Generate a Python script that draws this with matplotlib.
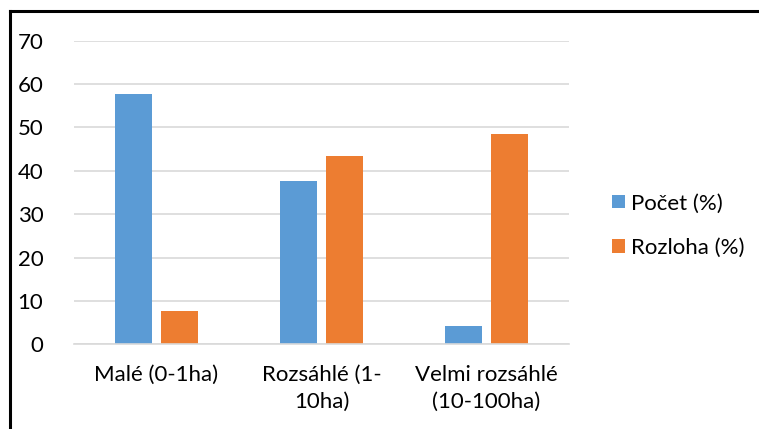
import matplotlib
matplotlib.use("Agg")
import matplotlib.pyplot as plt
from matplotlib.lines import Line2D
from matplotlib.patches import Patch
import numpy as np

categories = ["Malé (0-1ha)", "Rozsáhlé (1-\n10ha)", "Velmi rozsáhlé\n(10-100ha)"]
pocet = [57.7, 37.7, 4.3]
rozloha = [7.7, 43.4, 48.6]
series_labels = ["Počet (%)", "Rozloha (%)"]
y_ticks = [0, 10, 20, 30, 40, 50, 60, 70]

BLUE = "#5B9BD5"
ORANGE = "#ED7D31"
GRID = "#D9D9D9"

plt.rcParams["font.family"] = ["Lato", "DejaVu Sans"]

fig = plt.figure(figsize=(7.59, 4.29), dpi=100)
ax = fig.add_axes([0.0975, 0.1974, 0.6522, 0.7077])

x = np.arange(len(categories))
width = 0.224
offset = 0.142
ax.bar(x - offset, pocet, width, color=BLUE, zorder=3)
ax.bar(x + offset, rozloha, width, color=ORANGE, zorder=3)

ax.set_xlim(-0.5, len(categories) - 0.5)
ax.set_ylim(0, 70)
ax.set_yticks(y_ticks)
ax.set_yticklabels([str(v) for v in y_ticks])
ax.set_xticks(x)
ax.set_xticklabels(categories, linespacing=1.4)
ax.yaxis.grid(True, color=GRID, linewidth=1.2, zorder=0)
ax.tick_params(axis="both", length=0, labelsize=16, colors="#000000")
ax.tick_params(axis="y", pad=22)
ax.tick_params(axis="x", pad=15)
for side in ["top", "right", "left"]:
    ax.spines[side].set_visible(False)
ax.spines["bottom"].set_color(GRID)
ax.spines["bottom"].set_linewidth(1.2)
ax.spines["bottom"].set_zorder(4)

handles = [Patch(facecolor=BLUE), Patch(facecolor=ORANGE)]
fig.legend(handles, series_labels, loc="center left",
           bbox_to_anchor=(0.795, 0.474), frameon=False, fontsize=16,
           handlelength=0.55, handleheight=0.55, handletextpad=0.3,
           labelspacing=1.1, borderaxespad=0)

# frame lines along the top and left edges
fig.add_artist(Line2D([10 / 759, 10 / 759], [0, 1 - 11 / 429],
                      transform=fig.transFigure, color="black", linewidth=2.2))
fig.add_artist(Line2D([10 / 759, 1], [1 - 11 / 429, 1 - 11 / 429],
                      transform=fig.transFigure, color="black", linewidth=2.2))

fig.savefig("out.png", dpi=100)
